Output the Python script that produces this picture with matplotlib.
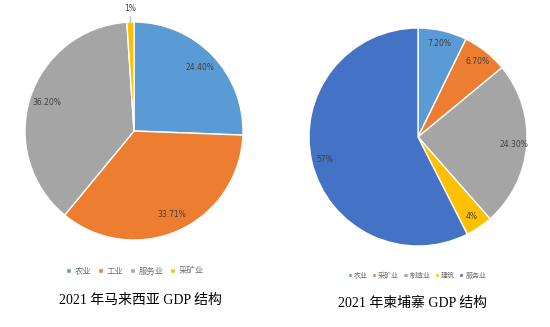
import numpy as np
import matplotlib
matplotlib.use('Agg')
import matplotlib.pyplot as plt

plt.rcParams['font.family'] = ['DejaVu Sans', 'Noto Sans CJK SC']

# Malaysia 2021
mys_cats = ['农业', '工业', '服务业', '采矿业']
mys_vals = [24.40, 33.71, 36.20, 1]
mys_text = ['24.40%', '33.71%', '36.20%', '1%']

# Cambodia 2021
khm_cats = ['农业', '采矿业', '制造业', '建筑', '服务业']
khm_vals = [7.20, 6.70, 24.30, 4, 57]
khm_text = ['7.20%', '6.70%', '24.30%', '4%', '57%']

mys_colors = ['#5B9BD5', '#ED7D31', '#A5A5A5', '#FFC000']
khm_colors = ['#5B9BD5', '#ED7D31', '#A5A5A5', '#FFC000', '#4472C4']

W, H = 550, 327
fig = plt.figure(figsize=(W / 100, H / 100), dpi=100)
title_font = ['Liberation Serif', 'Noto Sans CJK SC']


def draw_pie(cx, cy, r, vals, colors, texts, dist, outside=()):
    ax = fig.add_axes([(cx - r) / W, (H - cy - r) / H, 2 * r / W, 2 * r / H])
    wedges, _ = ax.pie(vals, colors=colors, startangle=90, counterclock=False,
                       wedgeprops=dict(edgecolor='white', linewidth=1.0))
    ax.set_xlim(-1, 1)
    ax.set_ylim(-1, 1)
    for i, (w, t) in enumerate(zip(wedges, texts)):
        ang = np.deg2rad((w.theta1 + w.theta2) / 2)
        if i in outside:
            ax.plot([np.cos(ang) * 1.0, np.cos(ang) * 1.05],
                    [np.sin(ang) * 1.0, np.sin(ang) * 1.05], color='#A5A5A5', lw=0.6,
                    clip_on=False)
            ax.text(np.cos(ang) * 1.12, np.sin(ang) * 1.12, t, ha='center', va='center',
                    fontsize=5.5, color='#404040')
        else:
            ax.text(np.cos(ang) * dist, np.sin(ang) * dist, t, ha='center', va='center',
                    fontsize=5.5, color='#404040')
    return ax, wedges


ax1, w1 = draw_pie(134, 131, 109, mys_vals, mys_colors, mys_text, 0.84, outside=(3,))
ax2, w2 = draw_pie(418, 137, 109, khm_vals, khm_colors, khm_text, 0.88)

fig.legend(w1, mys_cats, loc='center', bbox_to_anchor=(135 / W, 1 - 271 / H), ncol=4,
           frameon=False, fontsize=6, handlelength=0.6, handleheight=0.6,
           handletextpad=0.4, columnspacing=0.8, labelcolor='#707070')
fig.legend(w2, khm_cats, loc='center', bbox_to_anchor=(417 / W, 1 - 275 / H), ncol=5,
           frameon=False, fontsize=5, handlelength=0.6, handleheight=0.6,
           handletextpad=0.3, columnspacing=0.6, labelcolor='#707070')

fig.text(140 / W, 1 - 300 / H, '2021 年马来西亚 GDP 结构', ha='center', va='center',
         fontsize=10, family=title_font)
fig.text(413 / W, 1 - 303 / H, '2021 年柬埔寨 GDP 结构', ha='center', va='center',
         fontsize=10, family=title_font)

fig.savefig('out.png', dpi=100)
